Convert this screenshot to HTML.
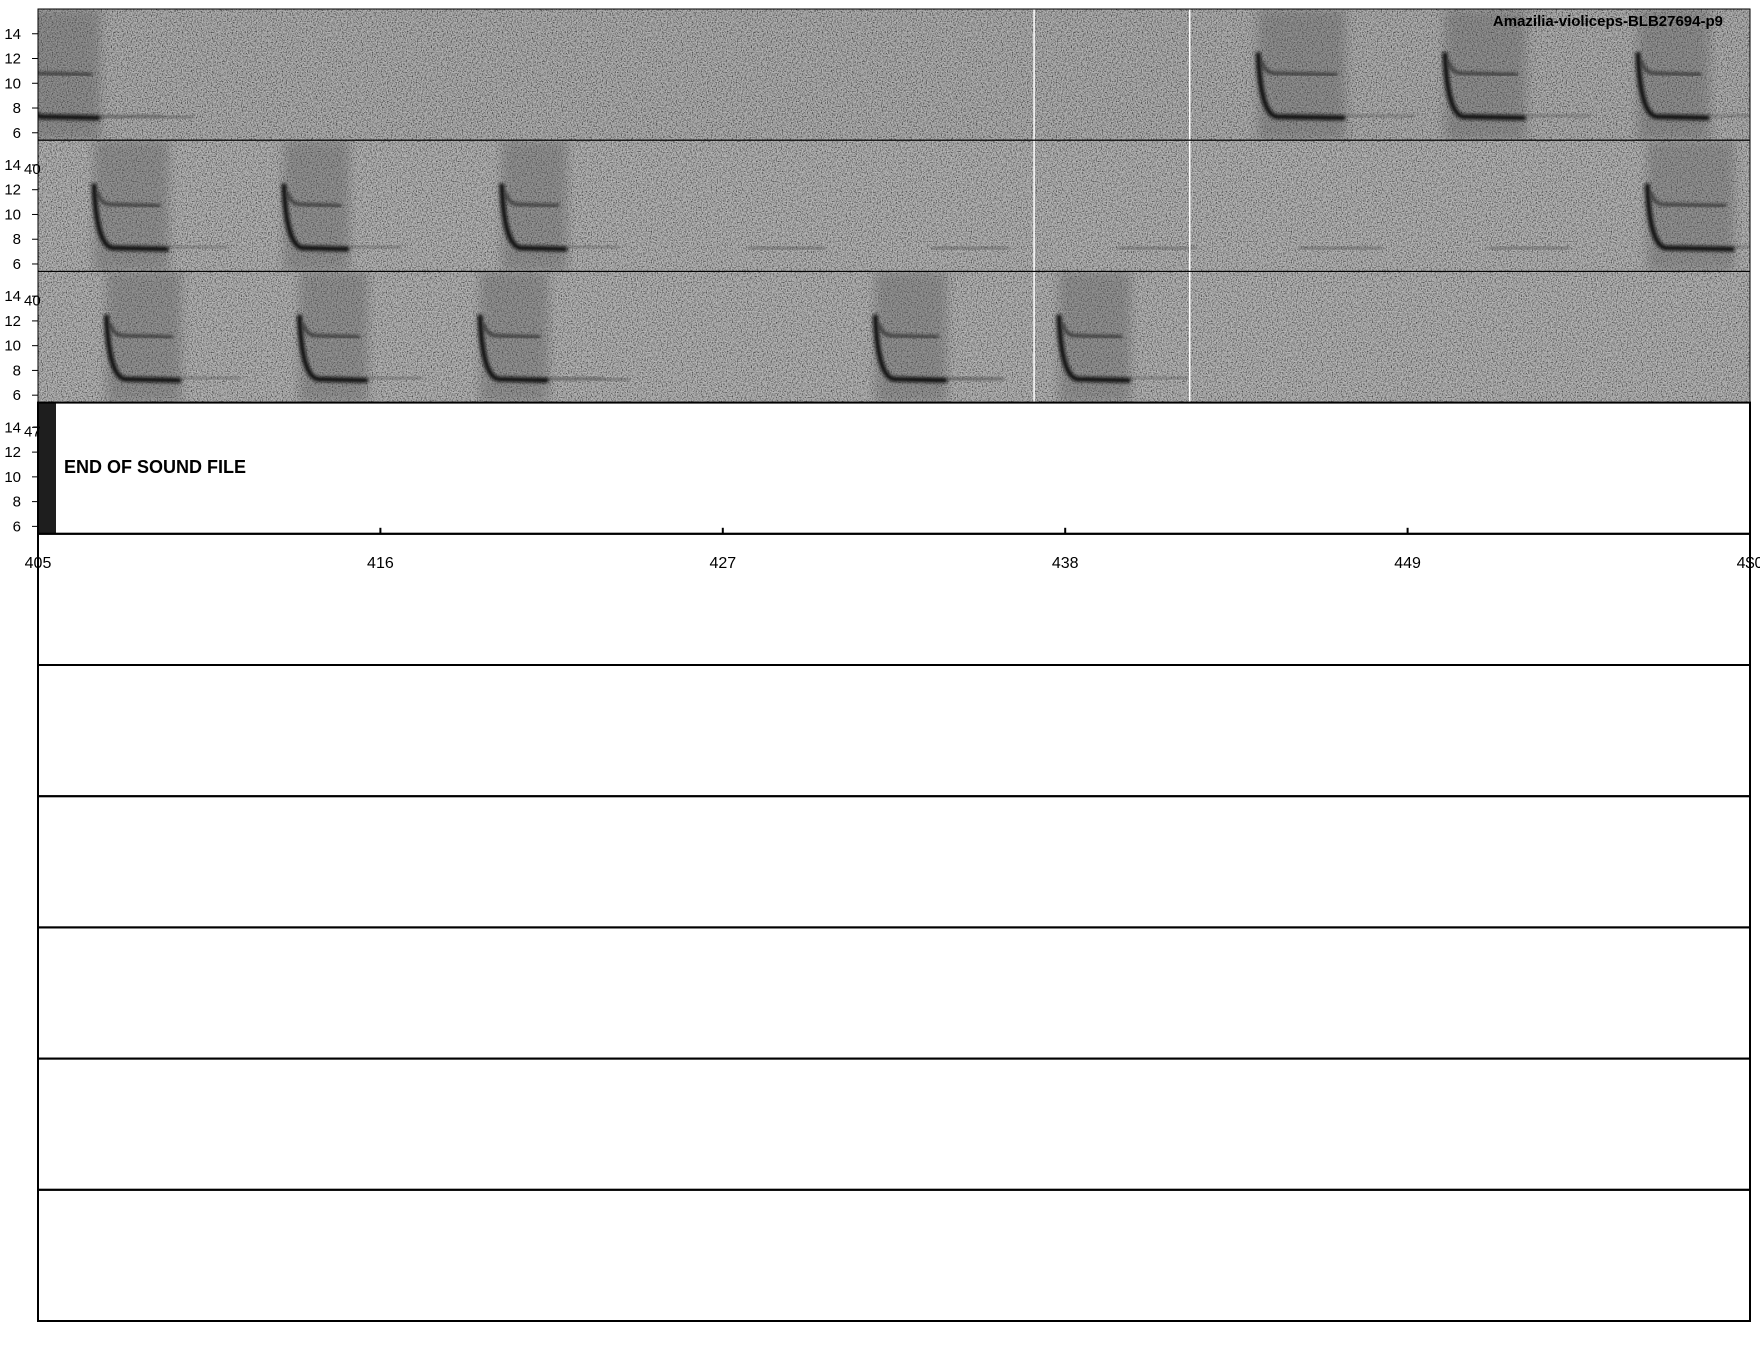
<!DOCTYPE html>
<html><head><meta charset="utf-8"><style>
html,body{margin:0;padding:0;background:#fff;}
svg{display:block;font-family:"Liberation Sans",sans-serif;}
</style></head><body>
<svg id="chart" width="1760" height="1360" viewBox="0 0 1760 1360" xmlns="http://www.w3.org/2000/svg">
<defs>
<filter id="noise" x="0" y="0" width="100%" height="100%">
<feTurbulence type="fractalNoise" baseFrequency="0.8" numOctaves="2" seed="3"/>
<feColorMatrix type="matrix" values="2.4 0 0 0 -0.68  2.4 0 0 0 -0.68  2.4 0 0 0 -0.68  0 0 0 0 1"/>
</filter>
<filter id="blur"><feGaussianBlur stdDeviation="1.5"/></filter>
<filter id="blur4"><feGaussianBlur stdDeviation="5"/></filter>
</defs>
<g id="panels"></g>
<text x="1723" y="26" text-anchor="end" font-size="15" font-weight="bold">Amazilia-violiceps-BLB27694-p9</text>
<text x="64" y="473" font-size="18" font-weight="bold">END OF SOUND FILE</text>
</svg>
<script>
// ---- data ----
const rowCount = 10;
const spectroRows = 4;
const timeStart = 405, timeEnd = 460;
const xTickValues = [405, 416, 427, 438, 449, 460];
const xTickLabels = ["405", "416", "427", "438", "449", "4$0"];
const yTicks = [6, 8, 10, 12, 14];
const freqMin = 5.4, freqMax = 16;
// call notes: row index, start time, end time
const callRows =   [0,     0,     0,     0,     1,     1,     1,     1,     2,     2,     2,     2,     2];
const callStarts = [404.5, 444.2, 450.2, 456.4, 406.8, 412.9, 419.9, 456.7, 407.2, 413.4, 419.2, 431.9, 437.8];
const callEnds =   [407.0, 447.0, 452.8, 458.7, 409.2, 415.0, 422.0, 459.5, 409.6, 415.6, 421.4, 434.2, 440.1];
// faint tone streaks: row, start, end
const faintRows =   [1,     1,     1,     1,     1,     0,     2,     2];
const faintStarts = [427.8, 433.7, 439.7, 445.5, 451.6, 407.0, 421.0, 433.0];
const faintEnds =   [430.3, 436.2, 442.2, 448.2, 454.2, 410.0, 424.0, 436.0];
const dividerTimes = [437.0, 442.0];
// ---- layout ----
const L = 38, R = 1750, TOP = 9, RH = 131.2;
const NS = "http://www.w3.org/2000/svg";
const g = document.getElementById('panels');
function xs(t){ return L + (t - timeStart) / (timeEnd - timeStart) * (R - L); }
function ys(row, f){ return TOP + row*RH + (freqMax - f) / (freqMax - freqMin) * RH; }
function el(tag, attrs, parent){ const e = document.createElementNS(NS, tag); for (const k in attrs) e.setAttribute(k, attrs[k]); (parent||g).appendChild(e); return e; }

for (let r = 0; r < spectroRows; r++){
  const top = TOP + r*RH;
  const cp = el('clipPath', {id:'clip'+r});
  el('rect', {x:L, y:top, width:R-L, height:RH}, cp);
  const pg = el('g', {'clip-path':'url(#clip'+r+')'});
  
  
  if (r < 3){
    el('rect', {x:L, y:top, width:R-L, height:RH, fill: r===0 ? '#7f7f7f' : '#858585'}, pg);
    el('rect', {x:L, y:top, width:R-L, height:RH, filter:'url(#noise)', opacity:0.45}, pg);
  } else {
    el('rect', {x:L, y:top, width:R-L, height:RH, fill:'#fff'}, pg);
    const strip = el('rect', {x:L, y:top, width:18, height:RH, fill:'#1e1e1e'}, pg);
    
    
  }
  for (let i = 0; i < faintRows.length; i++){
    if (faintRows[i] !== r) continue;
    const f = el('rect', {x:xs(faintStarts[i]), y:ys(r,7.4), width:xs(faintEnds[i])-xs(faintStarts[i]), height:3, fill:'#555', opacity:0.6, filter:'url(#blur)'}, pg);
    
    
  }
  for (let i = 0; i < callRows.length; i++){
    if (callRows[i] !== r) continue;
    const x0 = xs(callStarts[i]), x1 = xs(callEnds[i]);
    const cg = el('g', {}, pg);
    
    
    el('rect', {x:x0, y:top, width:x1-x0, height:RH, fill:'#555', opacity:0.35, filter:'url(#blur4)'}, cg);
    el('path', {d:`M${x0} ${ys(r,12.5)} Q${x0+2} ${ys(r,7.6)} ${x0+18} ${ys(r,7.3)} L${x1} ${ys(r,7.2)}`, stroke:'#111', 'stroke-width':5, fill:'none', filter:'url(#blur)'}, cg);
    el('path', {d:`M${x0+4} ${ys(r,11.8)} Q${x0+6} ${ys(r,10.8)} ${x0+18} ${ys(r,10.8)} L${x1-8} ${ys(r,10.7)}`, stroke:'#333', 'stroke-width':3, fill:'none', filter:'url(#blur)'}, cg);
    el('rect', {x:x1, y:ys(r,7.5), width:(x1-x0)*0.8, height:3, fill:'#555', opacity:0.5, filter:'url(#blur)'}, cg);
  }
  if (r < 3){
    for (const t of dividerTimes){
      const d = el('line', {x1:xs(t), x2:xs(t), y1:top, y2:top+RH, stroke:'#fff', 'stroke-width':1.5}, pg);
      
      
    }
  }
  for (const v of yTicks){
    const y = ys(r, v);
    el('line', {x1:L-6, x2:L, y1:y, y2:y, stroke:'#000', 'stroke-width':1});
    const t = el('text', {x:L-17, y:y+5, 'text-anchor':'end', 'font-size':15}); t.textContent = v;
    
    
  }
  if (r > 0){
    const t = el('text', {x:24, y:top+34, 'font-size':15}); t.textContent = r === 3 ? '47' : '40';
    
    
  }
}
for (let r = 0; r < rowCount; r++){
  const f = el('rect', {x:L, y:TOP + r*RH, width:R-L, height:RH, fill:'none', stroke:'#000', 'stroke-width': r>=3 ? 2 : 1});
  
  
}
const axY = TOP + 4*RH;
for (let i = 0; i < xTickValues.length; i++){
  const x = xs(xTickValues[i]);
  el('line', {x1:x, x2:x, y1:axY-6, y2:axY, stroke:'#000', 'stroke-width':2});
  const t = el('text', {x:x, y:axY+34, 'text-anchor':'middle', 'font-size':16}); t.textContent = xTickLabels[i];
  
  
}
</script>
</body></html>
